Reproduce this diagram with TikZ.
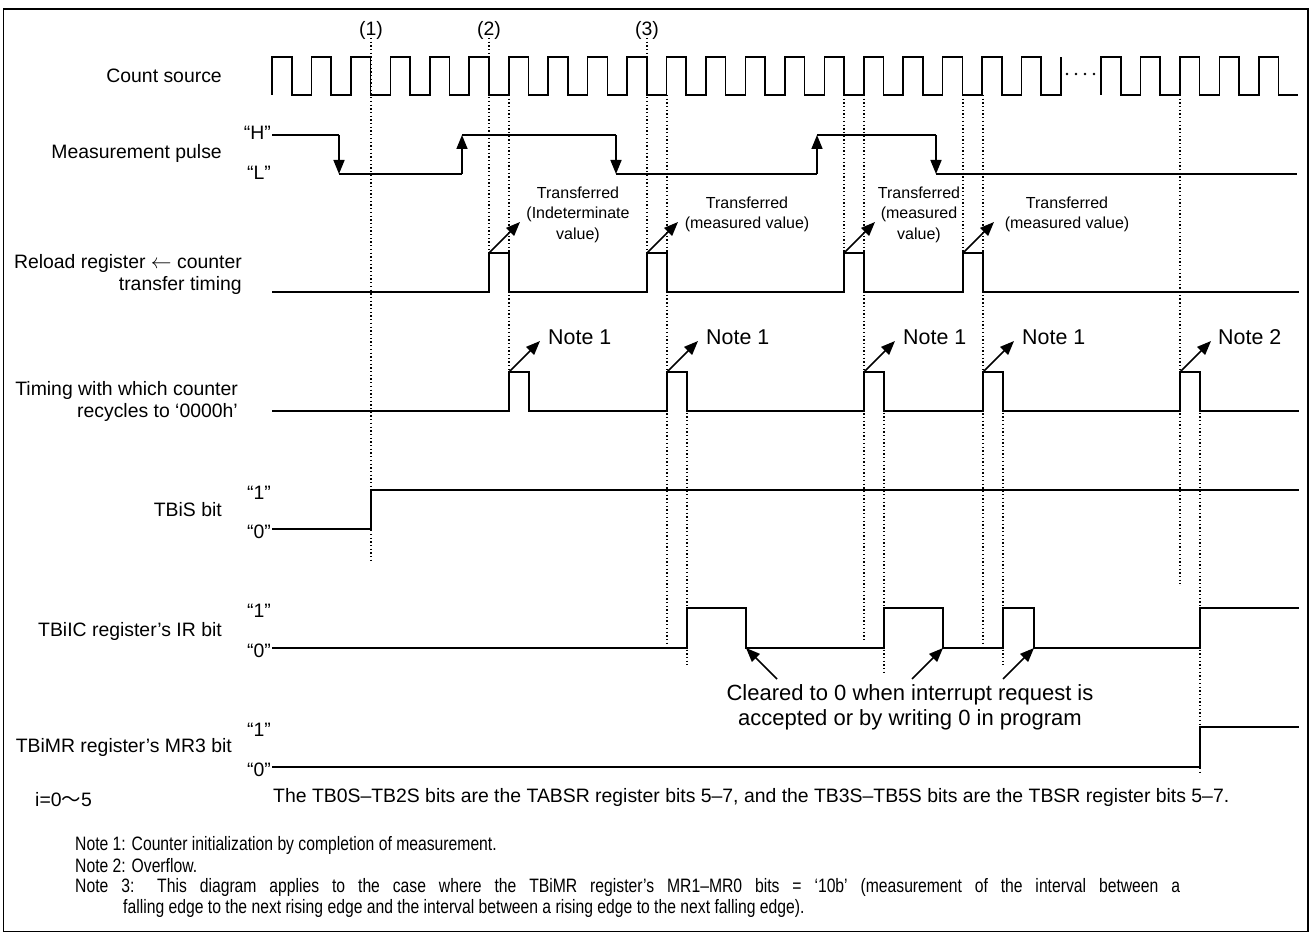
\documentclass[tikz,border=0pt]{standalone}
\usepackage{fontspec}
\setmainfont{Liberation Sans}
\newfontfamily\cjkfont{Noto Sans CJK JP}
\newfontfamily\narrowfont[FakeStretch=0.81]{Liberation Sans}
\usetikzlibrary{arrows.meta}
\begin{document}
\begin{tikzpicture}[x=1pt,y=-1pt,
  sig/.style={line width=1.6pt,line join=miter},
  dotln/.style={line width=1.3pt,dash pattern=on 1.3pt off 2.4pt},
  arr/.style={-{Triangle[length=14pt,width=11pt]}},
  lab/.style={font=\fontsize{19.4}{22}\selectfont,inner sep=0pt,align=right,anchor=east},
  lvl/.style={font=\fontsize{19.4}{22}\selectfont,inner sep=0pt,anchor=base east},
  xfer/.style={font=\fontsize{16}{20.5}\selectfont,inner sep=0pt,align=center},
  notetxt/.style={font=\fontsize{21.4}{25}\selectfont,inner sep=0pt,anchor=west},
  foot/.style={font=\fontsize{19.4}{22}\selectfont,inner sep=0pt,anchor=west},
  fnote/.style={font=\narrowfont\fontsize{19.4}{21}\selectfont,inner sep=0pt,anchor=west}]
\useasboundingbox (0,0) rectangle (1311,936);
\draw[line width=1.8pt] (3.5,9) rectangle (1308,931.5);

% ---- labels on the left
\node[lab] (lCount) at (222,76) {Count source};
\node[lab] (lMeas) at (222,153) {Measurement pulse};
\node[lab] (lReload) at (242,274) {Reload register $\leftarrow$ counter\\transfer timing};
\node[lab] (lRecyc) at (238,401) {Timing with which counter\\recycles to ‘0000h’};
\node[lab] (lTBiS) at (222,510) {TBiS bit};
\node[lab] (lIR) at (222,631) {TBiIC register’s IR bit};
\node[lab] (lMR3) at (232,747) {TBiMR register’s MR3 bit};

\node[lvl] (lvH) at (271,140) {“H”};
\node[lvl] (lvL) at (271,180) {“L”};
\node[lvl] (lvS1) at (271,499.5) {“1”};
\node[lvl] (lvS0) at (271,538.5) {“0”};
\node[lvl] (lvI1) at (271,617.5) {“1”};
\node[lvl] (lvI0) at (271,657.5) {“0”};
\node[lvl] (lvM1) at (271,736.5) {“1”};
\node[lvl] (lvM0) at (271,776.5) {“0”};

% ---- markers
\node[font=\fontsize{19.4}{22}\selectfont,inner sep=0pt] (m1) at (371,30) {(1)};
\node[font=\fontsize{19.4}{22}\selectfont,inner sep=0pt] (m2) at (489,30) {(2)};
\node[font=\fontsize{19.4}{22}\selectfont,inner sep=0pt] (m3) at (647,30) {(3)};

% ---- dotted guide lines
\draw[dotln] (371,38) -- (371,562);
\draw[dotln] (489,38) -- (489,253);
\draw[dotln] (509,95) -- (509,372);
\draw[dotln] (647,38) -- (647,253);
\draw[dotln] (667,95) -- (667,645);
\draw[dotln] (687,372) -- (687,665);
\draw[dotln] (844,95) -- (844,253);
\draw[dotln] (864,95) -- (864,640);
\draw[dotln] (884,372) -- (884,673);
\draw[dotln] (963,95) -- (963,253);
\draw[dotln] (983,95) -- (983,645);
\draw[dotln] (1003,372) -- (1003,665);
\draw[dotln] (1180,95) -- (1180,584);
\draw[dotln] (1200,372) -- (1200,775);

% ---- count source
\draw[sig] (272,95) \foreach \k in {0,...,19}{ -- ++(0,-38) -- ++(19.7,0) -- ++(0,38) -- ++(19.75,0)} -- ++(0,-38);
\draw[sig] (1101,95) \foreach \k in {0,...,4}{ -- ++(0,-38) -- ++(19.7,0) -- ++(0,38) -- ++(19.75,0)};
\foreach \x in {1067,1076,1085,1094} \fill (\x,74) circle (1.4);

% ---- measurement pulse
\draw[sig] (272,135) -- (339,135);
\draw[sig,arr] (339,135) -- (339,174);
\draw[sig] (339,174) -- (462,174);
\draw[sig,arr] (462,174) -- (462,135);
\draw[sig] (462,135) -- (616,135);
\draw[sig,arr] (616,135) -- (616,174);
\draw[sig] (616,174) -- (817,174);
\draw[sig,arr] (817,174) -- (817,135);
\draw[sig] (817,135) -- (936,135);
\draw[sig,arr] (936,135) -- (936,174);
\draw[sig] (936,174) -- (1297,174);

% ---- reload register transfer timing
\draw[sig] (272,292) -- (489,292) -- (489,253) -- (509,253) -- (509,292)
  -- (647,292) -- (647,253) -- (667,253) -- (667,292)
  -- (844,292) -- (844,253) -- (864,253) -- (864,292)
  -- (963,292) -- (963,253) -- (983,253) -- (983,292) -- (1299,292);
\coordinate (rl1) at (489,253);
\coordinate (rl2) at (647,253);
\coordinate (rl3) at (844,253);
\coordinate (rl4) at (963,253);
\foreach \c in {rl1,rl2,rl3,rl4} \draw[sig,arr] (\c) -- ++(31,-31);
\node[xfer] (t1) at (578,214.5) {Transferred\\(Indeterminate\\value)};
\node[xfer] (t2) at (747,214.5) {Transferred\\(measured value)};
\node[xfer] (t3) at (919,214.5) {Transferred\\(measured\\value)};
\node[xfer] (t4) at (1067,214.5) {Transferred\\(measured value)};

% ---- recycle timing
\draw[sig] (272,411) -- (509,411) -- (509,372) -- (529,372) -- (529,411)
  -- (667,411) -- (667,372) -- (687,372) -- (687,411)
  -- (864,411) -- (864,372) -- (884,372) -- (884,411)
  -- (983,411) -- (983,372) -- (1003,372) -- (1003,411)
  -- (1180,411) -- (1180,372) -- (1200,372) -- (1200,411) -- (1299,411);
\coordinate (rc1) at (509,372);
\coordinate (rc2) at (667,372);
\coordinate (rc3) at (864,372);
\coordinate (rc4) at (983,372);
\coordinate (rc5) at (1180,372);
\foreach \c in {rc1,rc2,rc3,rc4,rc5} \draw[sig,arr] (\c) -- ++(31,-31);
\node[notetxt] (n1) at (548,337) {Note 1};
\node[notetxt] (n2) at (706,337) {Note 1};
\node[notetxt] (n3) at (903,337) {Note 1};
\node[notetxt] (n4) at (1022,337) {Note 1};
\node[notetxt] (n5) at (1218,337) {Note 2};

% ---- TBiS bit
\draw[sig] (272,529) -- (371,529) -- (371,490) -- (1299,490);

% ---- TBiIC IR bit
\draw[sig] (272,648) -- (687,648) -- (687,608) -- (746,608) -- (746,648)
  -- (884,648) -- (884,608) -- (943,608) -- (943,648)
  -- (1003,648) -- (1003,608) -- (1034,608) -- (1034,648)
  -- (1200,648) -- (1200,608) -- (1299,608);
\node[font=\fontsize{22}{25}\selectfont,inner sep=0pt,align=center] (clr) at (910,707)
  {Cleared to 0 when interrupt request is\\accepted or by writing 0 in program};
\coordinate (ca1) at (777,679);
\coordinate (ca2) at (912,679);
\coordinate (ca3) at (1003,679);
\coordinate (ct1) at (746,648);
\coordinate (ct2) at (943,648);
\coordinate (ct3) at (1034,648);
\draw[sig,arr] (ca1) -- (ct1);
\draw[sig,arr] (ca2) -- (ct2);
\draw[sig,arr] (ca3) -- (ct3);

% ---- TBiMR MR3 bit
\draw[sig] (272,767) -- (1200,767) -- (1200,727) -- (1299,727);

% ---- footer texts
\node[foot] (iidx) at (35,800) {i=0{\cjkfont ～}5};
\node[foot] (fbits) at (273,797) {The TB0S–TB2S bits are the TABSR register bits 5–7, and the TB3S–TB5S bits are the TBSR register bits 5–7.};
\node[fnote] (fn1) at (75,845) {Note 1: Counter initialization by completion of measurement.};
\node[fnote] (fn2) at (75,866) {Note 2: Overflow.};
\node[fnote] (fn3) at (75,887) {\makebox[1105pt][s]{Note 3: This diagram applies to the case where the TBiMR register’s MR1–MR0 bits = ‘10b’ (measurement of the interval between a}};
\node[fnote] (fn4) at (123,908) {falling edge to the next rising edge and the interval between a rising edge to the next falling edge).};
\end{tikzpicture}
\end{document}
